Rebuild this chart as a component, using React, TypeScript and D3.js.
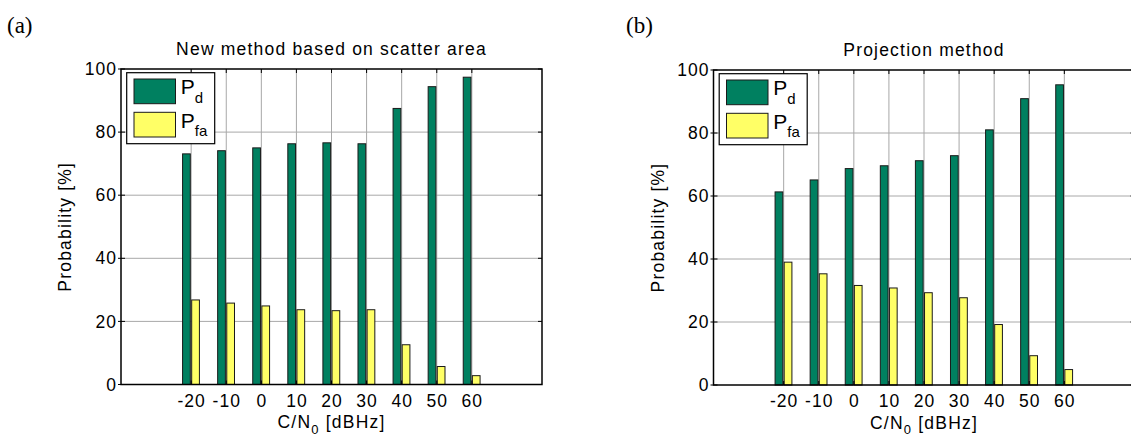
import React, { useEffect, useRef } from "react";
import * as d3 from "d3";

// C/N0 values on the x axis
const snrTicks = [-20, -10, 0, 10, 20, 30, 40, 50, 60];
const probTicks = [0, 20, 40, 60, 80, 100];

// (a) new method based on scatter area
const pdScatter = [73.1, 74.1, 75.0, 76.3, 76.6, 76.3, 87.5, 94.4, 97.4];
const pfaScatter = [26.8, 25.8, 24.9, 23.7, 23.4, 23.7, 12.6, 5.7, 2.8];

// (b) projection method
const pdProjection = [61.3, 65.1, 68.7, 69.6, 71.2, 72.8, 81.0, 90.9, 95.3];
const pfaProjection = [39.0, 35.3, 31.6, 30.8, 29.3, 27.7, 19.2, 9.3, 4.9];

const titles = ["New method based on scatter area", "Projection method"];
const tags = ["(a)", "(b)"];

const FONT = "'Liberation Sans', Arial, Helvetica, sans-serif";
const GREEN = "#008060";
const YELLOW = "#ffff66";

interface Panel {
  tag: string;
  tagX: number;
  title: string;
  left: number;
  top: number;
  bottom: number;
  pd: number[];
  pfa: number[];
}

const panels: Panel[] = [
  { tag: tags[0], tagX: 7, title: titles[0], left: 121, top: 69, bottom: 384.5, pd: pdScatter, pfa: pfaScatter },
  { tag: tags[1], tagX: 626, title: titles[1], left: 713.5, top: 70, bottom: 385, pd: pdProjection, pfa: pfaProjection },
];

function drawPanel(root: d3.Selection<SVGGElement, unknown, null, undefined>, p: Panel) {
  const width = 421;
  const x = d3.scaleLinear().domain([-40, 80]).range([p.left, p.left + width]);
  const y = d3.scaleLinear().domain([0, 100]).range([p.bottom, p.top]);
  const g = root.append("g");

  // panel tag
  g.append("text").attr("x", p.tagX).attr("y", 33)
    .style("font-family", "'Liberation Serif', 'Times New Roman', serif").style("font-size", "23px")
    .text(p.tag);

  // grid
  g.selectAll(".vgrid").data(snrTicks).enter().append("line")
    .attr("x1", d => x(d)).attr("x2", d => x(d)).attr("y1", p.top).attr("y2", p.bottom)
    .attr("stroke", "#a8a8a8").attr("stroke-width", 1);
  g.selectAll(".hgrid").data(probTicks.slice(1, -1)).enter().append("line")
    .attr("x1", p.left).attr("x2", p.left + width).attr("y1", d => y(d)).attr("y2", d => y(d))
    .attr("stroke", "#a8a8a8").attr("stroke-width", 1);

  // bars
  const barW = 2.2;
  g.selectAll(".pd").data(p.pd).enter().append("rect")
    .attr("x", (d, i) => x(snrTicks[i] - 2.45)).attr("width", x(barW) - x(0))
    .attr("y", d => y(d)).attr("height", d => y(0) - y(d))
    .attr("fill", GREEN).attr("stroke", "#1a1a1a").attr("stroke-width", 1);
  g.selectAll(".pfa").data(p.pfa).enter().append("rect")
    .attr("x", (d, i) => x(snrTicks[i] + 0.15)).attr("width", x(barW) - x(0))
    .attr("y", d => y(d)).attr("height", d => y(0) - y(d))
    .attr("fill", YELLOW).attr("stroke", "#1a1a1a").attr("stroke-width", 1);

  // inward ticks
  const tl = 4;
  snrTicks.forEach(t => {
    g.append("line").attr("x1", x(t)).attr("x2", x(t)).attr("y1", p.top).attr("y2", p.top + tl).attr("stroke", "#000");
    g.append("line").attr("x1", x(t)).attr("x2", x(t)).attr("y1", p.bottom).attr("y2", p.bottom - tl).attr("stroke", "#000");
  });
  probTicks.forEach(t => {
    g.append("line").attr("x1", p.left - 3).attr("x2", p.left + tl).attr("y1", y(t)).attr("y2", y(t)).attr("stroke", "#000");
    g.append("line").attr("x1", p.left + width).attr("x2", p.left + width - tl).attr("y1", y(t)).attr("y2", y(t)).attr("stroke", "#000");
  });

  // box
  g.append("rect").attr("x", p.left).attr("y", p.top).attr("width", width).attr("height", p.bottom - p.top)
    .attr("fill", "none").attr("stroke", "#000").attr("stroke-width", 1.5);

  // tick labels
  const xAxis = g.append("g").attr("transform", `translate(0,${p.bottom})`)
    .call(d3.axisBottom(x).tickValues(snrTicks).tickSize(0).tickPadding(10).tickFormat(d => `${d}`));
  xAxis.select(".domain").remove();
  xAxis.selectAll("text").style("font-family", FONT).style("font-size", "17.5px").style("letter-spacing", "1px").attr("fill", "#000");

  const yAxis = g.append("g").attr("transform", `translate(${p.left},0)`)
    .call(d3.axisLeft(y).tickValues(probTicks).tickSize(0).tickPadding(4));
  yAxis.select(".domain").remove();
  yAxis.selectAll("text").style("font-family", FONT).style("font-size", "17.5px").style("letter-spacing", "1px").attr("fill", "#000");

  const cx = p.left + width / 2;

  // title
  g.append("text").attr("x", cx).attr("y", p.top - 14).attr("text-anchor", "middle")
    .style("font-family", FONT).style("font-size", "17.5px").style("letter-spacing", "1.2px").text(p.title);

  // x label
  const xl = g.append("text").attr("x", cx).attr("y", p.bottom + 43.5).attr("text-anchor", "middle")
    .style("font-family", FONT).style("font-size", "17.5px").style("letter-spacing", "1.2px");
  xl.append("tspan").text("C/N");
  xl.append("tspan").attr("dy", 5.5).style("font-size", "13px").text("0");
  xl.append("tspan").attr("dy", -5.5).text(" [dBHz]");

  // y label
  g.append("text").attr("transform", `translate(${p.left - 50},${(p.top + p.bottom) / 2}) rotate(-90)`)
    .attr("text-anchor", "middle")
    .style("font-family", FONT).style("font-size", "17.5px").style("letter-spacing", "1.2px")
    .text("Probability [%]");

  // legend
  const lg = g.append("g").attr("transform", `translate(${p.left + 5.7},${p.top + 3.7})`);
  lg.append("rect").attr("width", 88).attr("height", 71).attr("fill", "#fff").attr("stroke", "#000").attr("stroke-width", 1.2);
  const entries = [
    { sub: "d", color: GREEN },
    { sub: "fa", color: YELLOW },
  ];
  entries.forEach((e, i) => {
    const oy = 6.3 + i * 33.3;
    lg.append("rect").attr("x", 7.3).attr("y", oy).attr("width", 41.5).attr("height", 24.7)
      .attr("fill", e.color).attr("stroke", "#1a1a1a").attr("stroke-width", 1);
    const t = lg.append("text").attr("x", 54).attr("y", oy + 15.5).style("font-family", FONT).style("font-size", "21px");
    t.append("tspan").text("P");
    t.append("tspan").attr("dy", 8.5).style("font-size", "15px").text(e.sub);
  });
}

export default function App() {
  const svgRef = useRef<SVGSVGElement>(null);

  useEffect(() => {
    if (!svgRef.current) return;
    const svg = d3.select(svgRef.current);
    svg.selectAll("*").remove();
    const root = svg.append("g");
    panels.forEach(p => drawPanel(root, p));
  }, []);

  return (
    <div style={{ position: "absolute", left: 0, top: 0, width: 1131, height: 436, background: "#fff", overflow: "hidden" }}>
      <svg ref={svgRef} width={1131} height={436} style={{ display: "block" }}></svg>
    </div>
  );
}
